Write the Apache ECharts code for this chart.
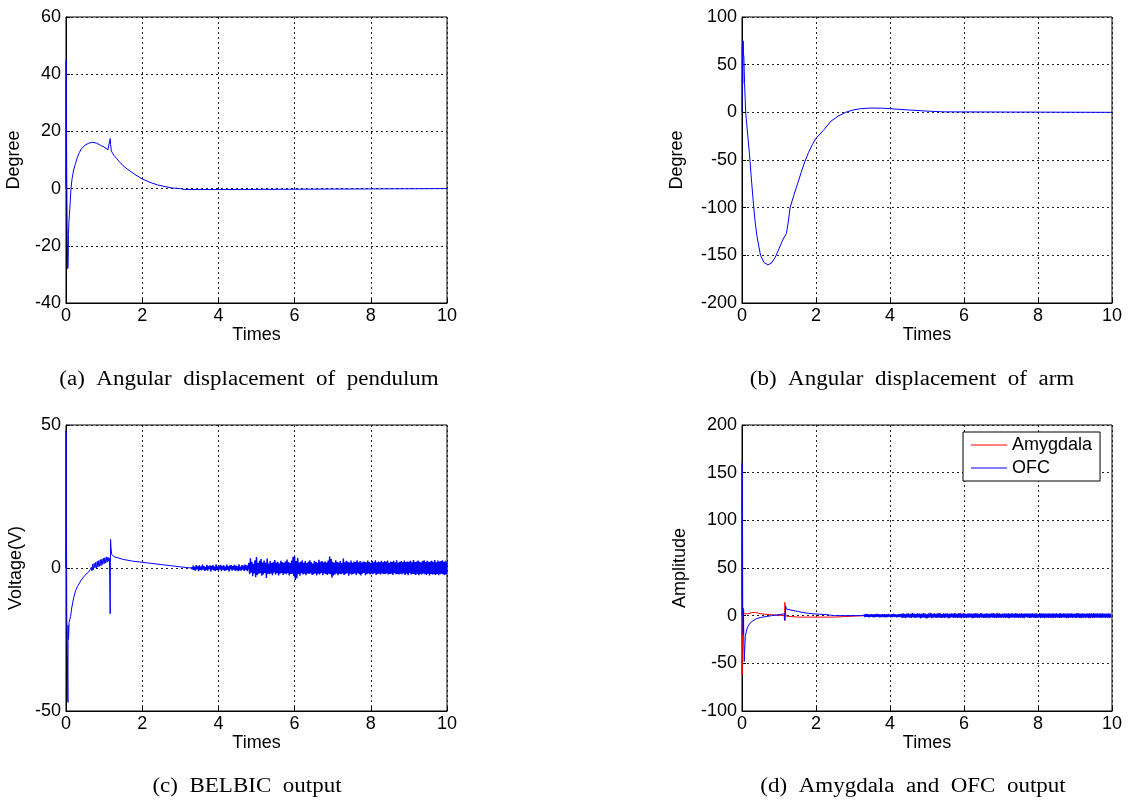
<!DOCTYPE html>
<html>
<head>
<meta charset="utf-8">
<script src="https://cdn.jsdelivr.net/npm/echarts@6/dist/echarts.min.js"></script>
<style>
html,body{margin:0;padding:0;background:#fff;}
#chart{width:1129px;height:803px;}
</style>
</head>
<body>
<div id="chart"></div>
<script>
// ---------- (a) Angular displacement of pendulum ----------
const pendT = [0, 0.004, 0.008, 0.012, 0.02, 0.03, 0.045, 0.055, 0.065, 0.075, 0.09, 0.11, 0.13, 0.16, 0.2, 0.25, 0.3, 0.35, 0.4, 0.5, 0.6, 0.7, 0.8, 0.9, 1.0, 1.1, 1.14, 1.16, 1.17, 1.19, 1.22, 1.26, 1.3, 1.4, 1.5, 1.6, 1.8, 2.0, 2.2, 2.4, 2.6, 2.8, 3.0, 3.1, 4.0, 4.6, 4.62, 10];
const pendY = [0, 45, 2, 23.5, 4, -14, -28, -27, -16, -12, -9, -5, 0, 3.5, 6.5, 8.8, 11, 12.6, 13.8, 15.2, 15.9, 16.2, 15.9, 15.2, 14.5, 13.6, 13.1, 17.5, 15.5, 13.2, 12.4, 11.6, 11, 9.4, 8, 6.9, 5, 3.4, 2.2, 1.3, 0.7, 0.2, 0, -0.3, -0.3, -0.3, 0, 0];

// ---------- (b) Angular displacement of arm ----------
const armT = [0, 0.01, 0.02, 0.03, 0.04, 0.05, 0.07, 0.1, 0.15, 0.2, 0.25, 0.3, 0.35, 0.4, 0.5, 0.6, 0.7, 0.8, 0.9, 1.0, 1.1, 1.2, 1.25, 1.3, 1.4, 1.5, 1.6, 1.7, 1.8, 1.9, 2.0, 2.2, 2.4, 2.6, 2.8, 3.0, 3.2, 3.5, 3.8, 4.0, 4.5, 5.0, 5.45, 5.5, 10];
const armY = [0, 70, 30, 75, 62, 58, 30, 0, -22, -43, -68, -92, -113, -129, -150, -157.7, -160, -158, -152, -143, -134, -127, -115, -100, -87, -75, -63, -51.4, -42, -34, -27, -19, -9.4, -3.9, 0, 2.4, 3.8, 4.5, 4.3, 3.8, 2.5, 1.3, 0.5, 0, 0];

// ---------- (c) BELBIC output ----------
const voltT1 = [0, 0.003, 0.006, 0.012, 0.02, 0.035, 0.05, 0.055, 0.06, 0.07, 0.08, 0.1, 0.12, 0.15, 0.2, 0.25, 0.3, 0.4, 0.5, 0.6, 0.64];
const voltY1 = [0, 48, 0, 14.5, -17, -30, -47, -20, -25, -24, -19, -18, -17, -14, -10.5, -8, -6.5, -4.2, -2.5, -1.3, -0.5];
const voltNoiseAStart = 0.66, voltNoiseAStep = 0.02;
const voltNoiseA = [0.2,-1.0,1.3,-0.6,1.6,0.1,2.0,-0.2,2.3,0.4,2.6,0.6,2.9,0.8,3.1,1.2,3.4,1.5,3.6,1.7,3.9,2.0,3.8,2.4,3.5];
const voltT2 = [1.15, 1.16, 1.165, 1.17, 1.18, 1.2, 1.25, 1.3, 1.5, 1.75, 2.0, 2.25, 2.5, 2.75, 3.0, 3.28, 3.30];
const voltY2 = [3, -16, 2, 10, 7, 4.8, 4, 3.6, 3, 2.4, 2, 1.6, 1.2, 0.8, 0.4, 0, 0.3];
const voltNoiseBStart = 3.30, voltNoiseBStep = 0.02;
const voltNoiseB = [
 0.3,-0.5,0.8,-0.7,0.4,-0.9,1.0,-0.4,0.6,-1.1,0.9,-0.6,0.5,-0.8,1.2,-0.5,0.7,-1.0,0.4,-0.7,
 1.1,-0.9,0.6,-0.4,0.9,-1.2,0.7,-0.6,1.0,-0.8,0.5,-1.0,1.3,-0.7,0.6,-0.9,0.8,-0.5,1.1,-1.1,
 0.7,-0.6,0.9,-1.0,0.5,-0.8,1.2,-0.7,0.6,-1.2,0.9,-0.5,1.0,-0.9,0.7,-0.6,1.1,-1.0,0.8,-0.7,
 0.6,-1.1,1.3,-0.8,0.5,-0.9,1.0,-0.6,0.8,-1.0,1.2,-0.7,0.9,-1.1,0.6,
 1.8,-2.1,3.4,-1.6,2.2,-2.9,1.5,-1.9,2.7,-3.2,3.8,-2.4,1.7,-2.0,2.5,-1.8,3.1,-2.7,1.9,-2.3,
 2.6,-1.7,1.8,-3.5,3.3,-2.0,1.6,-2.2,2.4,-1.9,1.7,-2.5,2.1,-1.6,2.8,-2.3,1.9,-1.8,2.2,-2.6,
 1.6,-2.0,2.5,-1.7,2.0,-2.4,1.8,-1.9,2.3,-2.2,3.0,-1.8,2.1,-2.6,1.7,-2.1,2.6,-2.0,3.9,-2.8,
 4.1,-4.2,2.4,-3.6,3.5,-2.1,1.9,-2.7,2.2,-1.8,2.6,-2.3,1.8,-2.0,2.4,-2.5,1.7,-1.9,2.2,-2.1,
 2.7,-1.8,2.0,-2.4,1.6,-2.2,2.5,-1.9,2.1,-2.6,1.8,-2.0,2.9,-2.3,2.2,-1.7,2.4,-2.5,2.0,-1.9,
 2.3,-2.1,1.9,-2.4,2.6,-2.0,4.0,-2.2,3.1,-3.4,2.2,-2.6,1.8,-2.3,2.7,-1.9,2.1,-2.5,1.9,-2.0,
 2.4,-2.2,1.7,-1.9,3.3,-2.4,2.0,-2.1,2.5,-1.8,2.2,-2.7,1.9,-2.0,2.6,-2.3,1.8,-2.1,2.3,-1.9,
 2.1,-2.4,2.7,-1.8,2.0,-2.2,2.4,-2.6,1.9,-2.0,2.3,-1.7,2.2,-2.5,2.0,-2.1,2.6,-1.9,2.1,-2.3,
 1.8,-2.0,2.4,-2.2,2.0,-1.8,2.7,-2.4,1.9,-2.1,2.3,-2.0,2.1,-2.3,2.5,-1.9,2.0,-2.2,2.4,-2.1,
 2.2,-1.9,2.6,-2.3,1.8,-2.1,2.3,-2.0,2.1,-2.4,2.5,-1.8,2.0,-2.2,2.7,-2.1,1.9,-2.3,2.2,-2.0,
 2.4,-2.2,2.0,-1.9,2.6,-2.4,2.1,-2.0,2.3,-2.5,2.2,-1.8,2.5,-2.3,2.0,-2.1,2.8,-2.2,2.1,-2.4,
 2.3,-2.0,2.6,-2.5,2.2,-2.1,2.0,-2.3,2.4,-1.9,2.7,-2.2,2.1,-2.4,2.5,-2.0,2.2,-2.6,2.3,-2.1,
 2.5,-2.3,2.1,-2.2,2.8,-2.4,2.0,-2.1,2.6,-2.5,2.3,-2.2,2.4,-2.0,2.7,-2.3,2.2,-2.4,2.5,-2.2,
 2.0];

// ---------- (d) Amygdala and OFC output ----------
const seriesNames = ['Amygdala', 'OFC'];
const amyT = [0, 0.005, 0.01, 0.015, 0.02, 0.03, 0.04, 0.05, 0.08, 0.15, 0.25, 0.35, 0.45, 0.6, 0.8, 1.0, 1.14, 1.15, 1.16, 1.17, 1.2, 1.25, 1.5, 2.0, 2.5, 2.52, 3.28];
const amyY = [0, -62, -10, -35, 5, -20, 8, 2, 0, 2, 3, 3.5, 2.5, 1.5, 1, 0.5, 0, -5, 14, 2, -0.5, -1, -1.5, -1.5, -1.5, 0, 0];
const amyNoiseStart = 3.3, amyNoiseStep = 0.1;
const amyNoise = [
 0.4,-0.5,0.6,-0.3,0.5,-0.6,0.3,-0.4,0.6,-0.5,0.4,-0.7,0.5,-0.4,0.6,-0.3,0.8,-2.8,1.0,-0.6,
 2.5,-1.9,0.7,-2.6,1.2,-0.8,2.9,-2.4,0.9,-1.7,2.2,-0.7,1.1,-2.3,0.8,-0.6,2.6,-1.5,0.9,-2.2,
 0.7,-0.9,1.8,-0.6,0.8,-1.4,0.6,-0.9,1.0,-0.7,0.6,-2.5,0.9,-0.8,0.7,-0.6,1.2,-0.7,0.6,-0.8,
 0.9,-2.7,0.7,-0.6,0.8,-0.5,0.6];
const ofcT = [0, 0.004, 0.008, 0.012, 0.02, 0.03, 0.04, 0.05, 0.06, 0.07, 0.08, 0.09, 0.12, 0.15, 0.2, 0.25, 0.3, 0.4, 0.5, 0.6, 0.8, 1.0, 1.15, 1.16, 1.17, 1.18, 1.2, 1.3, 1.5, 1.7, 1.9, 2.1, 2.3, 2.4, 2.5, 3.28, 3.30];
const ofcY = [0, 160, 20, 122, 0, -20, 5, -30, -48, -46, -30, -22, -16, -12, -9, -6.5, -5, -3, -2, -1.2, 0, 1, 2, -5, 3, 10, 7, 6, 4.5, 3, 2, 1.5, 1, 0.5, 0, 0, 1.2];
const ofcNoiseStart = 3.30, ofcNoiseStep = 0.025;
const ofcNoise = [
 1.2,-1.4,1.7,-1.2,1.5,-1.8,1.3,-1.1,1.6,-1.5,1.2,-1.7,1.4,-1.3,1.8,-1.1,1.5,-1.6,1.2,-1.4,
 1.6,-1.3,1.4,-1.7,1.2,-1.5,1.8,-1.2,1.3,-1.6,1.5,-1.4,1.7,-1.2,1.4,-1.8,1.3,-1.5,1.6,-1.3,
 1.9,-2.2,2.4,-1.9,1.7,-2.6,2.1,-1.8,2.3,-2.0,1.6,-2.4,2.8,-1.7,2.0,-2.3,1.9,-2.1,2.5,-1.8,
 2.2,-2.7,1.8,-2.0,2.6,-1.9,2.1,-2.5,1.7,-2.2,2.4,-1.8,2.9,-2.6,1.9,-2.1,2.3,-2.0,1.8,-2.4,
 2.2,-1.9,2.6,-2.3,1.7,-2.0,2.4,-2.2,2.0,-1.8,2.5,-2.6,1.9,-2.1,2.3,-1.7,2.1,-2.4,2.7,-2.0,
 1.8,-2.2,2.4,-1.9,2.0,-2.5,2.2,-1.8,2.6,-2.1,1.9,-2.3,2.1,-2.0,2.4,-1.8,2.2,-2.6,2.0,-2.2,
 2.5,-1.9,2.3,-2.4,1.8,-2.1,2.6,-2.0,2.1,-2.3,1.9,-2.2,2.4,-1.8,2.2,-2.5,2.0,-2.1,2.3,-1.9,
 2.6,-2.2,1.9,-2.4,2.1,-2.0,2.5,-2.3,1.8,-2.1,2.2,-2.0,2.4,-2.2,2.0,-1.9,2.3,-2.5,2.1,-2.0,
 2.4,-2.1,2.0,-2.3,2.6,-1.9,2.2,-2.4,1.9,-2.0,2.5,-2.2,2.1,-2.6,2.3,-1.8,2.0,-2.1,2.4,-2.3,
 2.2,-2.0,2.5,-1.9,2.1,-2.4,2.3,-2.2,1.9,-2.1,2.6,-2.3,2.0,-1.9,2.4,-2.5,2.2,-2.0,2.1,-2.2,
 2.3,-2.4,2.0,-2.1,2.5,-1.9,2.2,-2.3,2.4,-2.0,1.9,-2.2,2.6,-2.4,2.1,-2.0,2.3,-2.1,2.0,-2.5,
 2.4,-2.2,2.1,-1.9,2.5,-2.3,2.2,-2.1,2.0,-2.4,2.6,-2.0,2.3,-2.2,2.1,-2.5,2.4,-1.9,2.2,-2.3,
 2.0,-2.1,2.5,-2.4,2.3,-2.0,2.1,-2.2,2.6,-2.3,2.2,-1.9,2.4,-2.1,2.0,-2.4,2.3,-2.2,2.5,-2.0,
 2.2,-2.3,2.1,-2.0,2.4,-2.2,2.0,-2.1];

// ---------- axis ticks & texts ----------
const xTicks = {min: 0, max: 10, interval: 2};
const yTicks = [
  {min: -40, max: 60, interval: 20},
  {min: -200, max: 100, interval: 50},
  {min: -50, max: 50, interval: 50},
  {min: -100, max: 200, interval: 50}
];
const xName = 'Times';
const yNames = ['Degree', 'Degree', 'Voltage(V)', 'Amplitude'];
const captions = [
  '(a)  Angular  displacement  of  pendulum',
  '(b)  Angular  displacement  of  arm',
  '(c)  BELBIC  output',
  '(d)  Amygdala  and  OFC  output'
];

// ---------- helpers ----------
function zip(t, y) { return t.map((v, i) => [v, y[i]]); }
function sampled(start, step, vals) { return vals.map((v, i) => [+(start + i * step).toFixed(4), v]); }

const FONT = '"Liberation Sans", Arial, sans-serif';
const grids = [
  {left: 66, top: 17, width: 381, height: 286},
  {left: 742, top: 17, width: 370, height: 286},
  {left: 66, top: 425, width: 381, height: 286},
  {left: 742, top: 425, width: 370, height: 286}
];
const yNameGaps = [43, 56, 41, 53];

const grid = grids.map(g => Object.assign({show: true, borderColor: '#000', borderWidth: 1, backgroundColor: 'transparent', containLabel: false}, g));
const splitStyle = {show: true, lineStyle: {color: '#222', type: [2, 3], width: 1}};
const xAxis = grids.map((g, i) => ({
  type: 'value', gridIndex: i, min: xTicks.min, max: xTicks.max, interval: xTicks.interval,
  name: xName, nameLocation: 'middle', nameGap: 22,
  nameTextStyle: {fontSize: 18, color: '#000', fontFamily: FONT},
  axisLine: {onZero: false, lineStyle: {color: '#000', width: 1}},
  axisTick: {show: true, inside: true, length: 4, lineStyle: {color: '#000'}},
  axisLabel: {fontSize: 18, color: '#000', margin: 4, fontFamily: FONT},
  splitLine: splitStyle
}));
const yAxis = grids.map((g, i) => ({
  type: 'value', gridIndex: i, min: yTicks[i].min, max: yTicks[i].max, interval: yTicks[i].interval,
  name: yNames[i], nameLocation: 'middle', nameGap: yNameGaps[i],
  nameTextStyle: {fontSize: 18, color: '#000', fontFamily: FONT},
  axisLine: {onZero: false, lineStyle: {color: '#000', width: 1}},
  axisTick: {show: true, inside: true, length: 4, lineStyle: {color: '#000'}},
  axisLabel: {fontSize: 18, color: '#000', margin: 5, fontFamily: FONT},
  splitLine: splitStyle
}));

function lineSeries(name, idx, data, color, width) {
  return {
    name: name, type: 'line', xAxisIndex: idx, yAxisIndex: idx, data: data,
    symbol: 'none', showSymbol: false, sampling: null, animation: false,
    lineStyle: {color: color, width: width || 1}, itemStyle: {color: color}
  };
}

const BLUE = '#0000ff', RED = '#ff0000';
const series = [
  lineSeries('pend', 0, zip(pendT, pendY), BLUE),
  lineSeries('arm', 1, zip(armT, armY), BLUE),
  lineSeries('volt', 2, [].concat(zip(voltT1, voltY1), sampled(voltNoiseAStart, voltNoiseAStep, voltNoiseA), zip(voltT2, voltY2)), BLUE),
  lineSeries('voltNoise', 2, sampled(voltNoiseBStart, voltNoiseBStep, voltNoiseB), BLUE, 1.4),
  lineSeries(seriesNames[0], 3, [].concat(zip(amyT, amyY), sampled(amyNoiseStart, amyNoiseStep, amyNoise)), RED),
  lineSeries(seriesNames[1], 3, zip(ofcT, ofcY), BLUE),
  lineSeries('ofcNoise', 3, sampled(ofcNoiseStart, ofcNoiseStep, ofcNoise), BLUE, 1.4)
];

const captionPos = [[249, 380], [912, 380], [247, 787], [913, 787]];
const graphic = captions.map((c, i) => ({
  type: 'text', x: captionPos[i][0], y: captionPos[i][1], scaleX: 1.15, silent: true,
  style: {text: c, textAlign: 'center', textVerticalAlign: 'middle', fill: '#000',
          font: '20px "Liberation Serif", "Times New Roman", serif'}
}));

const chart = echarts.init(document.getElementById('chart'), null, {renderer: 'canvas'});
chart.setOption({
  animation: false,
  backgroundColor: '#fff',
  grid: grid,
  xAxis: xAxis,
  yAxis: yAxis,
  legend: {
    data: seriesNames.map(n => ({name: n, icon: 'rect'})),
    orient: 'vertical', left: 963, top: 432,
    itemWidth: 36, itemHeight: 1, itemGap: 5,
    padding: [4, 8, 4, 8], borderColor: '#000', borderWidth: 1, backgroundColor: '#fff',
    textStyle: {fontSize: 18, color: '#000', fontFamily: FONT},
    selectedMode: false
  },
  graphic: graphic,
  series: series
});
</script>
</body>
</html>
